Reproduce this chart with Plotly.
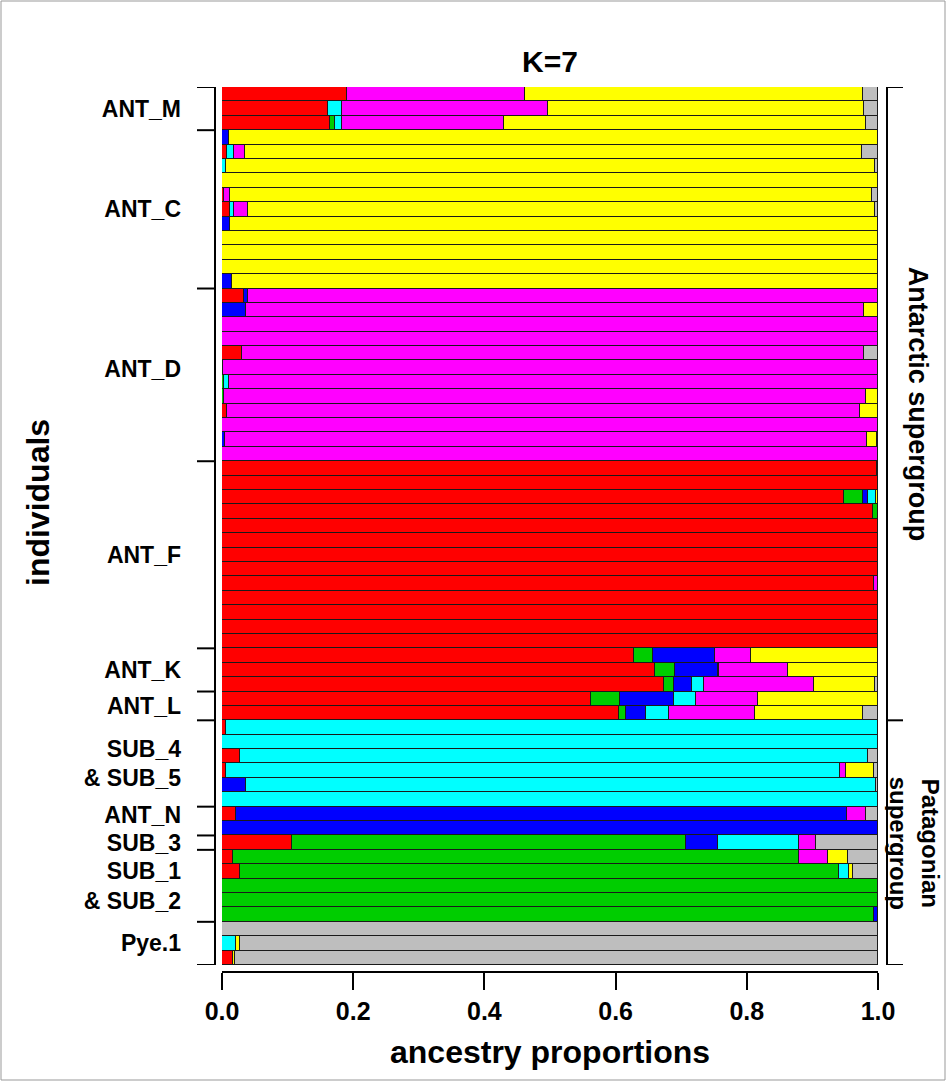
import plotly.graph_objects as go
import numpy as np

# ---- data (rows listed top to bottom) ----
component_names = ["red", "green", "blue", "cyan", "magenta", "yellow", "gray"]
component_colors = ["#FF0000", "#00CD00", "#0000FF", "#00FFFF", "#FF00FF", "#FFFF00", "#BEBEBE"]

group_names = ["ANT_M", "ANT_C", "ANT_D", "ANT_F", "ANT_K", "ANT_L",
               "SUB_4<br>& SUB_5", "ANT_N", "SUB_3", "SUB_1<br>& SUB_2", "Pye.1"]
group_sizes = [3, 11, 12, 13, 3, 2, 6, 2, 1, 5, 3]

supergroup_names = ["Antarctic supergroup", "Patagonian<br>supergroup"]
supergroup_sizes = [44, 17]

x_ticks = [0.0, 0.2, 0.4, 0.6, 0.8, 1.0]
x_ticklabels = ["0.0", "0.2", "0.4", "0.6", "0.8", "1.0"]

red = [.190, .161, .164,
       0, .008, 0, 0, .003, .012, 0, 0, 0, 0, 0,
       .033, 0, 0, 0, .030, .002, 0, 0, .008, 0, 0, 0,
       .998, 1, .948, .992, 1, 1, 1, 1, .994, 1, 1, 1, 1,
       .628, .660, .674,
       .563, .605,
       .006, 0, .028, .006, 0, 0,
       .022, 0,
       .107,
       .017, .028, 0, 0, 0,
       0, 0, .017]
green = [0, 0, .009,
         0, 0, 0, 0, 0, 0, 0, 0, 0, 0, 0,
         0, 0, 0, 0, 0, 0, .003, .003, 0, 0, 0, 0,
         0, 0, .029, .008, 0, 0, 0, 0, 0, 0, 0, 0, 0,
         .029, .031, .015,
         .044, .011,
         0, 0, 0, 0, 0, 0,
         0, 0,
         .601,
         .862, .913, 1, 1, .994,
         0, 0, 0]
blue = [0, 0, 0,
        .010, 0, 0, 0, 0, 0, .012, 0, 0, 0, .015,
        .006, .036, 0, 0, 0, 0, 0, 0, 0, 0, .004, 0,
        0, 0, .007, 0, 0, 0, 0, 0, 0, 0, 0, 0, 0,
        .095, .065, .028,
        .082, .030,
        0, 0, 0, 0, .036, 0,
        .930, 1,
        .048,
        0, 0, 0, 0, .006,
        0, 0, 0]
cyan = [0, .022, .010,
        0, .010, .006, 0, 0, .007, 0, 0, 0, 0, 0,
        0, 0, 0, 0, 0, 0, .008, 0, 0, 0, 0, 0,
        0, 0, .013, 0, 0, 0, 0, 0, 0, 0, 0, 0, 0,
        0, .002, .017,
        .034, .035,
        .994, 1, .956, .936, .961, 1,
        0, 0,
        .124,
        0, .015, 0, 0, 0,
        0, .021, 0]
magenta = [.272, .314, .247,
           0, .017, 0, 0, .009, .021, 0, 0, 0, 0, 0,
           .961, .943, 1, 1, .949, .998, .989, .978, .965, 1, .979, 1,
           0, 0, 0, 0, 0, 0, 0, 0, .006, 0, 0, 0, 0,
           .054, .105, .168,
           .094, .131,
           0, 0, 0, .009, 0, 0,
           .029, 0,
           .026,
           .045, 0, 0, 0, 0,
           0, 0, 0]
yellow = [.515, .482, .552,
          .990, .940, .989, 1, .979, .955, .988, 1, 1, 1, .985,
          0, .021, 0, 0, 0, 0, 0, .019, .027, 0, .015, 0,
          0, 0, .003, 0, 0, 0, 0, 0, 0, 0, 0, 0, 0,
          .194, .137, .094,
          .183, .165,
          0, 0, 0, .043, 0, 0,
          0, 0,
          0,
          .031, .006, 0, 0, 0,
          0, .006, .003]
gray = [.023, .021, .018,
        0, .025, .005, 0, .009, .005, 0, 0, 0, 0, 0,
        0, 0, 0, 0, .021, 0, 0, 0, 0, 0, .002, 0,
        .002, 0, 0, 0, 0, 0, 0, 0, 0, 0, 0, 0, 0,
        0, 0, .004,
        0, .023,
        0, 0, .016, .006, .003, 0,
        .019, 0,
        .094,
        .045, .038, 0, 0, 0,
        1, .973, .980]

components = [red, green, blue, cyan, magenta, yellow, gray]

# ---- geometry (px) ----
W, H = 946, 1081
ML, MR, MT, MB = 222, 68, 87, 109
PW = W - ML - MR
PH = H - MT - MB
gap_px = 7
n_rows = len(red)
rows = np.arange(n_rows)


def px_x(px):
    return (px - ML) / PW


def px_y(py):
    return (H - MB - py) / PH


fig = go.Figure()
for name, col, vals in zip(component_names, component_colors, components):
    fig.add_trace(go.Bar(
        y=rows, x=[v if v > 0 else None for v in vals], orientation="h",
        marker=dict(color=col, line=dict(color="#1a1a1a", width=1)),
        width=1.0, name=name, showlegend=False, hoverinfo="skip"))

# group boundaries / centres in data coords
bounds = np.concatenate([[0], np.cumsum(group_sizes)]) - 0.5
centres = (bounds[:-1] + bounds[1:]) / 2
# small visual nudges of a few labels (in row units), as in the reference
label_nudge = np.zeros(len(group_names))
label_nudge[group_names.index("ANT_D")] = -0.4
label_nudge[group_names.index("ANT_N")] = -0.45
label_pos = centres + label_nudge
sbounds = np.concatenate([[0], np.cumsum(supergroup_sizes)]) - 0.5
scentres = (sbounds[:-1] + sbounds[1:]) / 2

shapes = []
lw = 2
# left bracket
shapes.append(dict(type="line", xref="paper", yref="y", x0=px_x(215), x1=px_x(215),
                   y0=bounds[0], y1=bounds[-1], line=dict(color="black", width=lw)))
for b in bounds:
    shapes.append(dict(type="line", xref="paper", yref="y", x0=px_x(197), x1=px_x(215),
                       y0=b, y1=b, line=dict(color="black", width=lw)))
# right bracket
shapes.append(dict(type="line", xref="paper", yref="y", x0=px_x(887), x1=px_x(887),
                   y0=sbounds[0], y1=sbounds[-1], line=dict(color="black", width=lw)))
for b in sbounds:
    shapes.append(dict(type="line", xref="paper", yref="y", x0=px_x(887), x1=px_x(903),
                       y0=b, y1=b, line=dict(color="black", width=lw)))
# figure frame
shapes.append(dict(type="rect", xref="paper", yref="paper", x0=px_x(1), x1=px_x(945),
                   y0=px_y(1080), y1=px_y(1), line=dict(color="#999999", width=1)))

font = "Liberation Sans, Arial, sans-serif"
annotations = [
    dict(text="K=7", xref="paper", yref="paper", x=0.5, y=px_y(62), showarrow=False,
         font=dict(family=font, size=30, color="black", weight="bold"),
         xanchor="center", yanchor="middle"),
    dict(text="ancestry proportions", xref="paper", yref="paper", x=0.5, y=px_y(1052),
         showarrow=False, font=dict(family=font, size=32, color="black", weight="bold"),
         xanchor="center", yanchor="middle"),
    dict(text="individuals", xref="paper", yref="paper", x=px_x(38), y=px_y(502),
         showarrow=False, textangle=-90,
         font=dict(family=font, size=32, color="black", weight="bold"),
         xanchor="center", yanchor="middle"),
    dict(text=supergroup_names[0], xref="paper", yref="y", x=px_x(918), y=scentres[0],
         showarrow=False, textangle=90,
         font=dict(family=font, size=27, color="black", weight="bold"),
         xanchor="center", yanchor="middle"),
    dict(text=supergroup_names[1], xref="paper", yref="y", x=px_x(915), y=scentres[1],
         showarrow=False, textangle=90,
         font=dict(family=font, size=24, color="black", weight="bold"),
         xanchor="center", yanchor="middle"),
]

fig.update_layout(
    width=W, height=H,
    margin=dict(l=ML, r=MR, t=MT, b=MB, pad=0),
    paper_bgcolor="white", plot_bgcolor="white",
    barmode="stack", bargap=0,
    shapes=shapes, annotations=annotations,
    xaxis=dict(range=[0, 1], tickvals=x_ticks, ticktext=x_ticklabels,
               anchor="free", position=0, showline=True, linecolor="black", linewidth=2,
               ticks="outside", ticklen=17, tickwidth=2, tickcolor="black",
               showgrid=False, zeroline=False,
               tickfont=dict(family=font, size=25, color="black", weight="bold")),
    yaxis=dict(range=[bounds[-1], bounds[0]], domain=[gap_px / PH, 1],
               tickvals=label_pos, ticktext=group_names, ticks="",
               showline=False, showgrid=False, zeroline=False,
               ticklabelstandoff=40,
               tickfont=dict(family=font, size=23, color="black", weight="bold")),
)

fig.write_html("out.html")
